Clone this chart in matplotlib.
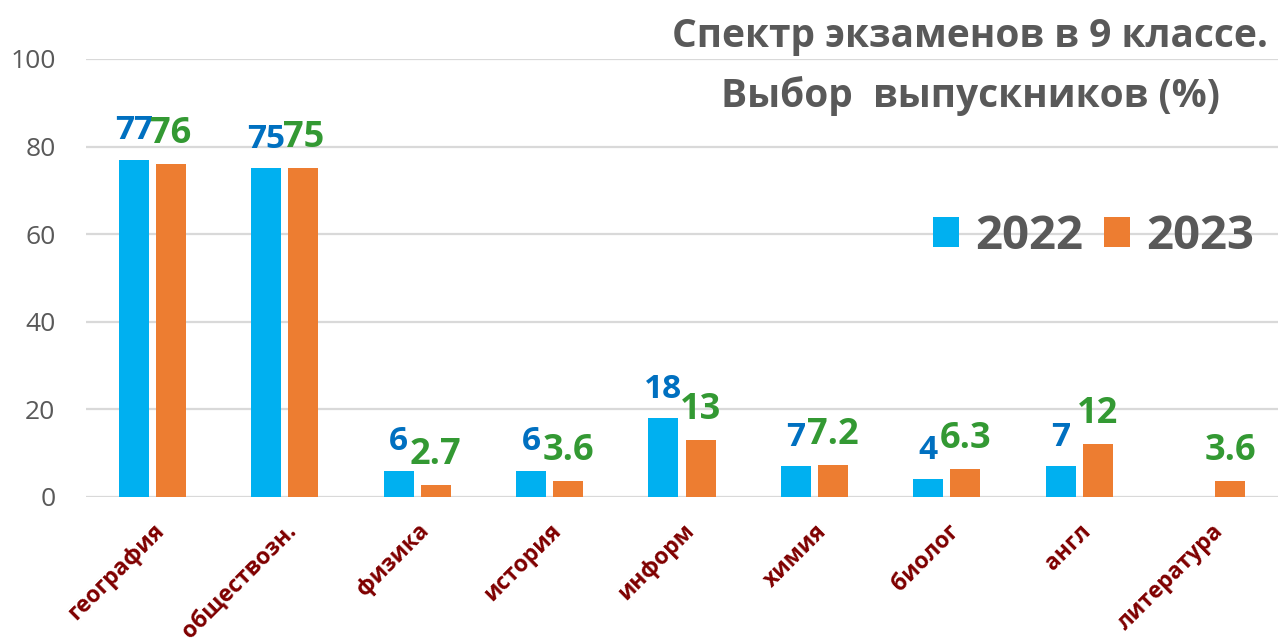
import numpy as np
import matplotlib
matplotlib.use("Agg")
import matplotlib.pyplot as plt
from matplotlib.patches import Patch

plt.rcParams['font.family'] = ['Open Sans', 'DejaVu Sans']

subjects = ['география', 'обществозн.', 'физика', 'история', 'информ',
            'химия', 'биолог', 'англ', 'литература']
vals_2022 = [77, 75, 6, 6, 18, 7, 4, 7, np.nan]
vals_2023 = [76, 75, 2.7, 3.6, 13, 7.2, 6.3, 12, 3.6]
years = ['2022', '2023']

bar_colors = ['#00B0F0', '#ED7D31']
label_colors = ['#0070C0', '#339933']
gray = '#595959'

fig = plt.figure(figsize=(12.78, 6.44), dpi=100)
ax = fig.add_axes([0.0673, 0.2283, 0.9327, 0.6801])

x = np.arange(len(subjects))
width = 0.227
offset = 0.14

# bars + value labels for each year
for i, (vals, bc, lc, fs) in enumerate(zip([vals_2022, vals_2023], bar_colors,
                                           label_colors, [24, 26])):
    pos = x + (-offset if i == 0 else offset)
    ax.bar(pos, vals, width=width, color=bc, zorder=3)
    for p, v in zip(pos, vals):
        if np.isnan(v):
            continue
        ax.annotate(f'{v:g}', (p, v), xytext=(0, 9), textcoords='offset points',
                    ha='center', va='bottom', fontsize=fs, fontweight='bold',
                    color=lc, zorder=4)

ax.set_xlim(-0.5, len(subjects) - 0.5)
ax.set_ylim(0, 100)
ax.set_yticks(range(0, 101, 20))
ax.yaxis.grid(True, color='#D9D9D9', linewidth=1.6, zorder=0)
ax.set_axisbelow(True)
for s in ax.spines.values():
    s.set_visible(False)
ax.tick_params(axis='y', length=0, pad=22, labelsize=19, labelcolor=gray)
ax.tick_params(axis='x', length=0, pad=16)

ax.set_xticks(x)
ax.set_xticklabels(subjects, rotation=45, ha='right', va='top',
                   rotation_mode='anchor', fontsize=16.5, fontweight='bold',
                   color='#7F0000')

# title
fig.text(0.759, 0.944, 'Спектр экзаменов в 9 классе.', ha='center', va='center',
         fontsize=28, fontweight='bold', color=gray)
fig.text(0.759, 0.851, 'Выбор  выпускников (%)', ha='center', va='center',
         fontsize=28, fontweight='bold', color=gray)

handles = [Patch(facecolor=c) for c in bar_colors]
fig.legend(handles, years, loc='center', bbox_to_anchor=(0.8556, 0.6335),
           ncol=2, frameon=False, handlelength=0.56, handleheight=0.6,
           handletextpad=0.34, columnspacing=0.44, labelcolor=gray,
           prop={'size': 34, 'weight': 'bold'})

fig.savefig('out.png', dpi=100, facecolor='white')
